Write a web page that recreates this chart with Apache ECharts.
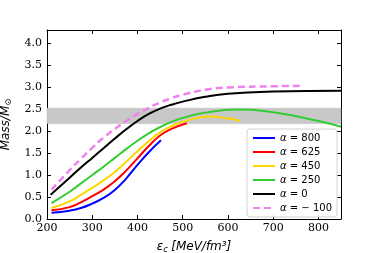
<!DOCTYPE html>
<html><head><meta charset="utf-8">
<script src="https://cdn.jsdelivr.net/npm/echarts@6/dist/echarts.min.js"></script>
<style>html,body{margin:0;padding:0;background:#fff}#c{width:379px;height:253px}</style>
</head><body><div id="c"></div>
<script>
const seriesNames = ['α = 800', 'α = 625', 'α = 450', 'α = 250', 'α = 0', 'α = − 100'];
const seriesColors = ['#0000ff', '#ff0000', '#ffd700', '#32cd32', '#000000', '#ee82ee'];
const x800 = [210, 250, 275, 300, 325, 350, 375, 400, 425, 452];
const y800 = [0.14, 0.19, 0.25, 0.35, 0.48, 0.66, 0.92, 1.23, 1.52, 1.79];
const x625 = [210, 250, 275, 300, 325, 350, 375, 400, 425, 450, 475, 509];
const y625 = [0.20, 0.27, 0.38, 0.52, 0.67, 0.86, 1.10, 1.38, 1.66, 1.90, 2.05, 2.18];
const x450 = [210, 250, 275, 300, 325, 350, 375, 400, 425, 450, 475, 500, 556, 600, 627];
const y450 = [0.25, 0.40, 0.55, 0.71, 0.88, 1.07, 1.30, 1.54, 1.77, 1.97, 2.11, 2.21, 2.33, 2.29, 2.23];
const x250 = [210, 250, 275, 300, 325, 350, 375, 400, 425, 450, 475, 500, 550, 620, 700, 800, 850];
const y250 = [0.36, 0.62, 0.81, 1.00, 1.19, 1.39, 1.59, 1.78, 1.95, 2.09, 2.21, 2.30, 2.42, 2.49, 2.43, 2.23, 2.10];
const x0 = [208, 250, 275, 300, 325, 350, 375, 400, 425, 450, 475, 500, 550, 600, 700, 850];
const y0 = [0.55, 0.94, 1.17, 1.39, 1.61, 1.83, 2.04, 2.23, 2.39, 2.51, 2.60, 2.67, 2.78, 2.85, 2.90, 2.92];
const xm100 = [210, 250, 275, 300, 325, 350, 375, 400, 425, 450, 475, 500, 550, 600, 700, 761];
const ym100 = [0.67, 1.11, 1.37, 1.62, 1.85, 2.05, 2.23, 2.39, 2.53, 2.65, 2.75, 2.83, 2.94, 2.99, 3.02, 3.03];
const bandRange = [2.17, 2.52];
const xTicks = [200, 850, 100];
const yTicks = [0, 4.3, 0.5];

const xs = [x800, x625, x450, x250, x0, xm100];
const ys = [y800, y625, y450, y250, y0, ym100];

const serif = 'DejaVu Serif';
const series = seriesNames.map((n, i) => ({
  name: n, type: 'line', smooth: 0.5, symbol: 'none', showSymbol: false,
  data: xs[i].map((x, j) => [x, ys[i][j]]),
  lineStyle: { color: seriesColors[i], width: i === 5 ? 2.5 : 2, type: i === 5 ? [7, 4] : 'solid' },
  itemStyle: { color: seriesColors[i] },
  z: 3
}));
series[0].markArea = {
  silent: true,
  itemStyle: { color: '#c8c8c8', borderColor: '#b8b8b8', borderWidth: 0.5 },
  data: [[{ yAxis: bandRange[0] }, { yAxis: bandRange[1] }]],
  z: 1
};

const axisCommon = {
  axisLine: { show: true, onZero: false, lineStyle: { color: '#000', width: 1 } },
  axisTick: { show: true, inside: true, length: 4, lineStyle: { color: '#000' } },
  splitLine: { show: false }
};
const chart = echarts.init(document.getElementById('c'));
chart.setOption({
  animation: false,
  grid: { left: 47, right: 38, top: 30, bottom: 34, containLabel: false, outerBoundsMode: 'none' },
  legend: {
    right: 42, bottom: 36, orient: 'vertical', itemWidth: 22, itemHeight: 10, itemGap: 4,
    padding: [4, 5, 4, 5], borderColor: '#d0d0d0', borderWidth: 1, borderRadius: 3,
    backgroundColor: 'rgba(255,255,255,0.85)',
    data: seriesNames,
    itemStyle: { opacity: 0 },
    formatter: n => '{i|α}' + n.slice(1),
    textStyle: { fontFamily: 'DejaVu Sans', fontSize: 10, color: '#000',
      rich: { i: { fontFamily: 'DejaVu Sans', fontStyle: 'italic', fontSize: 10 } } }
  },
  xAxis: [
    Object.assign({ type: 'value', min: xTicks[0], max: xTicks[1], interval: xTicks[2],
      name: '{a|ε}{s|c} {a|[MeV/fm³]}', nameLocation: 'middle', nameGap: 20,
      nameTextStyle: { rich: {
        a: { fontFamily: 'DejaVu Sans', fontStyle: 'italic', fontSize: 12, color: '#000' },
        s: { fontFamily: 'DejaVu Sans', fontStyle: 'italic', fontSize: 8.5, color: '#000', padding: [6, 0, 0, 0] } } },
      axisLabel: { fontFamily: serif, fontSize: 11, color: '#000', margin: 4, showMaxLabel: false } }, axisCommon),
    Object.assign({ type: 'value', position: 'top', min: xTicks[0], max: xTicks[1], interval: xTicks[2],
      axisLabel: { show: false } }, axisCommon)
  ],
  yAxis: [
    Object.assign({ type: 'value', min: yTicks[0], max: yTicks[1], interval: yTicks[2],
      name: '{a|Mass/M}{s|⊙}', nameLocation: 'middle', nameGap: 26,
      nameTextStyle: { rich: {
        a: { fontFamily: 'DejaVu Sans', fontStyle: 'italic', fontSize: 12, color: '#000' },
        s: { fontFamily: 'DejaVu Sans', fontSize: 8.5, color: '#000', padding: [6, 0, 0, 0] } } },
      axisLabel: { fontFamily: serif, fontSize: 11, color: '#000', margin: 5, showMaxLabel: false,
        formatter: v => v.toFixed(1) } }, axisCommon),
    Object.assign({ type: 'value', position: 'right', min: yTicks[0], max: yTicks[1], interval: yTicks[2],
      axisLabel: { show: false } }, axisCommon)
  ],
  series: series
});
</script></body></html>
